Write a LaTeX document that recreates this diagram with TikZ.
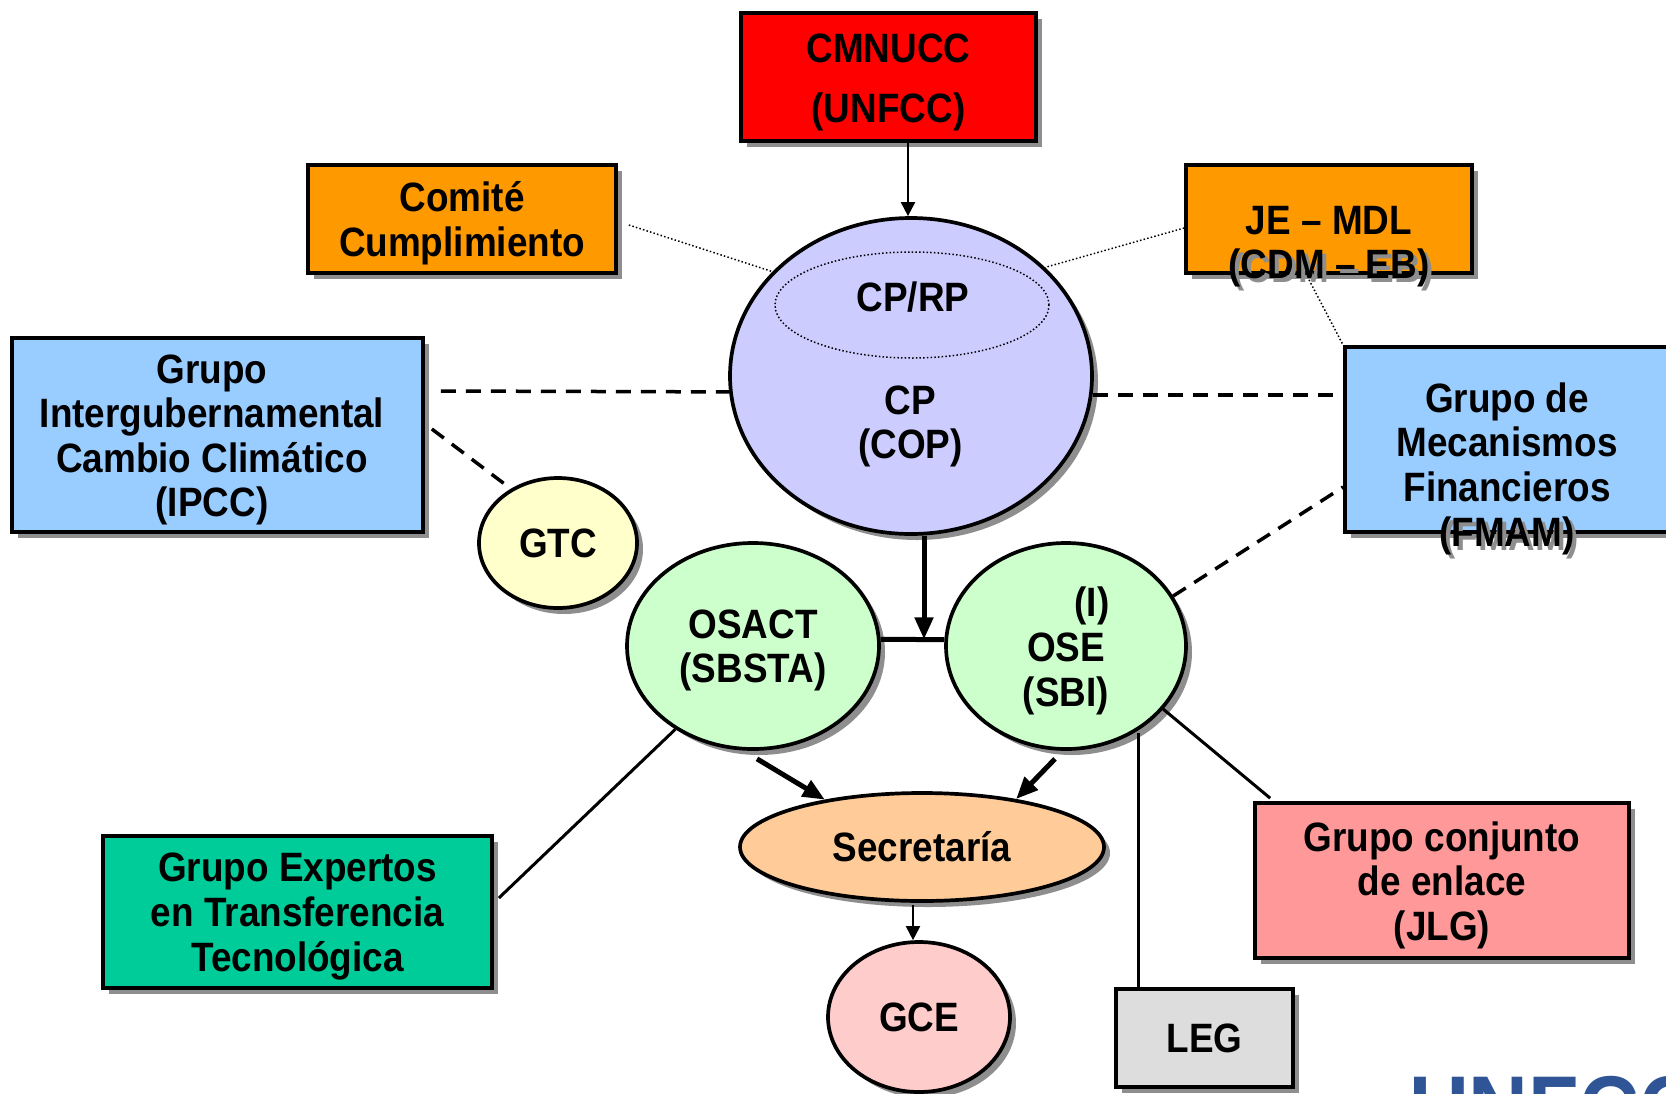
\documentclass[tikz,border=0pt]{standalone}
\usepackage{fontspec}
\setmainfont{Liberation Sans}[FakeStretch=0.9]
\usetikzlibrary{shapes.geometric,shadows,arrows.meta,calc}
\definecolor{cred}{HTML}{FF0000}
\definecolor{corange}{HTML}{FF9900}
\definecolor{cblue}{HTML}{99CCFF}
\definecolor{ccop}{HTML}{CCCCFF}
\definecolor{cgtc}{HTML}{FFFFCC}
\definecolor{cgreen}{HTML}{CCFFCC}
\definecolor{csec}{HTML}{FFCC99}
\definecolor{cgce}{HTML}{FFCCCC}
\definecolor{cexp}{HTML}{00CC99}
\definecolor{cjlg}{HTML}{FF9999}
\definecolor{cleg}{HTML}{DDDDDD}
\definecolor{shadowgray}{HTML}{8E8E8E}
\definecolor{logoblue}{HTML}{2F5597}
\begin{document}
\begin{tikzpicture}[x=1pt,y=-1pt,
  txt/.style={font=\fontsize{41}{44.6}\selectfont\bfseries, align=center, text=black},
  mtxt/.style={txt, yshift=-4.5pt},
  shad/.style={drop shadow={shadow xshift=6pt,shadow yshift=-6pt,fill=shadowgray,opacity=1}},
  box/.style={rectangle, draw=black, line width=3.7pt, shad, txt, inner sep=0pt},
  oval/.style={ellipse, draw=black, line width=3.7pt, shad, txt, inner sep=0pt},
  dotline/.style={line width=1.5pt, dash pattern=on 1.5pt off 2.2pt},
  dashline/.style={line width=3.5pt, dash pattern=on 15pt off 10pt},
  thinline/.style={line width=3pt},
  thinarrow/.style={line width=2pt, -{Triangle[length=14pt,width=14pt]}},
  thickarrow/.style={line width=5pt, -{Triangle[length=22pt,width=18pt]}},
  thickline/.style={line width=5pt},
  tshadow/.style={mtxt, text=shadowgray}
]
\useasboundingbox (0,0) rectangle (1666,1093);
\clip (0,0) rectangle (1666,1093);
\fill[white] (0,0) rectangle (1666,1093);

% logo fragment
\node[anchor=base west, inner sep=0pt, text=logoblue,
      font=\fontsize{92}{92}\selectfont\bfseries] (logo) at (1409,1140) {UNFCCC};

% boxes
\node[box, fill=cred, minimum width=295pt, minimum height=128pt] (un) at (888.5,77) {};
\node[txt] (unt1) at (888.5,48) {CMNUCC};
\node[txt] (unt2) at (888.5,112) {(UNFCC)};

\node[box, fill=corange, minimum width=308pt, minimum height=108pt] (com) at (462,219) {};
\node[mtxt] (comt) at (462,219) {Comité\\Cumplimiento};

\node[box, fill=corange, minimum width=286pt, minimum height=108pt] (je) at (1329,219) {};
\node[tshadow] (jes) at (1333,246) {\phantom{JE -- MDL}\\(CDM -- EB)};
\node[mtxt] (jet) at (1329,242) {JE -- MDL\\(CDM -- EB)};

\node[box, fill=cblue, minimum width=411pt, minimum height=194pt] (ip) at (217.5,435) {};
\node[mtxt] (ipt) at (212,435.5) {Grupo\\Intergubernamental\\Cambio Climático\\(IPCC)};

\node[box, fill=cblue, minimum width=328pt, minimum height=185pt] (fm) at (1509,439.5) {};
\node[tshadow] (fms) at (1511,468) {\phantom{Grupo de}\\\phantom{Mecanismos}\\\phantom{Financieros}\\(FMAM)};
\node[mtxt] (fmt) at (1507,464) {Grupo de\\Mecanismos\\Financieros\\(FMAM)};

\node[box, fill=cexp, minimum width=389pt, minimum height=152pt] (ge) at (297.5,912) {};
\node[mtxt] (get) at (297.5,912) {Grupo Expertos\\en Transferencia\\Tecnológica};

\node[box, fill=cjlg, minimum width=374pt, minimum height=155pt] (gc) at (1442,880.5) {};
\node[mtxt] (gct) at (1442,880.5) {Grupo conjunto\\de enlace\\(JLG)};

\node[box, fill=cleg, minimum width=177pt, minimum height=98pt] (leg) at (1204.5,1038) {LEG};

% ellipses
\node[oval, fill=ccop, minimum width=362pt, minimum height=316pt] (cp) at (911,376) {};
\node[ellipse, draw=black, dotline, minimum width=274pt, minimum height=106pt, inner sep=0pt] (rp) at (912,305) {};
\node[txt] (rpt) at (913,297.5) {CP/RP};
\node[mtxt] (cpt) at (910.5,422) {CP\\(COP)};

\node[oval, fill=cgtc, minimum width=158pt, minimum height=130pt] (gtc) at (558,543) {GTC};

\node[oval, fill=cgreen, minimum width=252pt, minimum height=206pt] (osa) at (753,646) {};
\node[mtxt] (osat) at (753,646) {OSACT\\(SBSTA)};
\node[oval, fill=cgreen, minimum width=240pt, minimum height=206pt] (ose) at (1066,646) {};
\node[txt] (oset1) at (1092,606) {(I)};
\node[mtxt] (oset2) at (1066,669.5) {OSE\\(SBI)};

\node[oval, fill=csec, minimum width=364pt, minimum height=108pt] (sec) at (922,847) {Secretaría};
\node[oval, fill=cgce, minimum width=182pt, minimum height=150pt] (gce) at (919,1017) {GCE};

% connectors
\draw[thinarrow] (un.south -| cp.north) ++(-3,0) coordinate (ua) -- (ua |- cp.north);
\draw[dotline] ($(com.east)+(11,6)$) -- (cp.143);
\draw[dotline] ($(je.west)+(0,9)$) -- (cp.39);
\draw[dotline] ($(je.south)+(-20,5)$) -- (fm.north west);
\draw[dashline] ($(ip.east)+(16,-44)$) -- (cp.185);
\draw[dashline] ($(ip.east)+(7,-6)$) -- (gtc.131);
\draw[dashline] (cp.-6) -- (cp.-6 -| fm.west);
\draw[dashline] (ose.25) -- ($(fm.west)+(0,47.5)$);

\coordinate (top) at ($(cp.south)+(13,0)$);
\coordinate (jn) at (top |- osa.3);
\draw[thickline] (osa.3) -- (ose.177);
\draw[thickarrow] (top) -- (jn);
\draw[thickarrow] ($(osa.south)+(4,8)$) -- (sec.154);
\draw[thickarrow] ($(ose.south)+(-11,8)$) -- (sec.27);
\draw[thinarrow] ($(sec.south)+(-9,2)$) coordinate (sa) -- (sa |- gce.north);

\draw[thinline] (osa.227) -- ($(ge.east)+(5,-14)$);
\draw[thinline] (ose.-33) -- ($(gc.north west)+(17,-3)$);
\coordinate (lt) at ($(leg.north west)+(24,0)$);
\draw[thinline] (ose.-52 -| lt) -- (lt);
\end{tikzpicture}
\end{document}
